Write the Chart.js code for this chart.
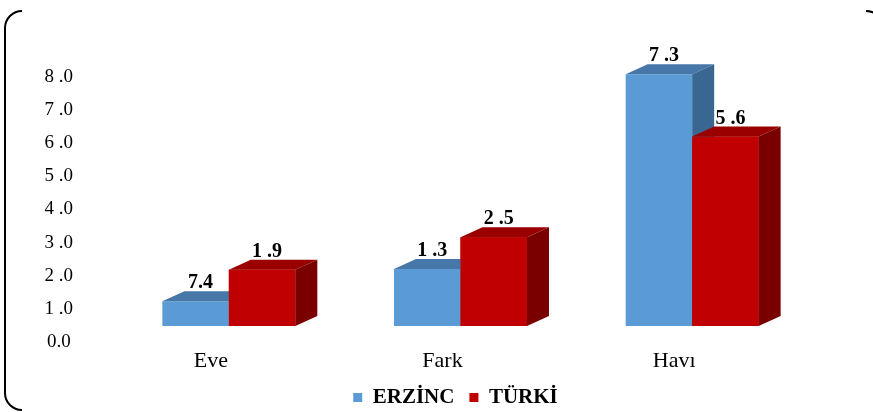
<!DOCTYPE html>
<html lang="tr">
<head>
<meta charset="UTF-8">
<title>Erzincan - Türkiye</title>
<script src="https://cdn.jsdelivr.net/npm/chart.js"></script>
<style>
    html, body { margin: 0; padding: 0; background: #fff; overflow: hidden; }
    canvas { display: block; }
</style>
</head>
<body>
<canvas id="chart" width="873" height="418"></canvas>
<script>
// values
const categories = ['Eve', 'Fark', 'Havı'];
const seriesNames = ['ERZİNC', 'TÜRKİ'];
const erzincValues = [0.75, 1.72, 7.6];
const turkiValues = [1.7, 2.68, 5.72];
const erzincLabels = ['7.4', '1 .3', '7 .3'];
const turkiLabels = ['1 .9', '2 .5', '5 .6'];
const yTickLabels = ['0.0', '1 .0', '2 .0', '3 .0', '4 .0', '5 .0', '6 .0', '7 .0', '8 .0'];

const serif = "'Liberation Serif', 'Times New Roman', serif";
const frontColors = ['#5B9BD5', '#C00000'];
const topColors = ['#4677A8', '#9A0000'];
const sideColors = ['#3A6791', '#7A0000'];
const depthX = 22, depthY = 10;

function drawFaces(ctx, bar, i) {
    const {x, y, base, width} = bar.getProps(['x', 'y', 'base', 'width'], true);
    const l = x - width / 2, r = x + width / 2;
    ctx.fillStyle = topColors[i];
    ctx.beginPath();
    ctx.moveTo(l, y);
    ctx.lineTo(l + depthX, y - depthY);
    ctx.lineTo(r + depthX, y - depthY);
    ctx.lineTo(r, y);
    ctx.closePath();
    ctx.fill();
    ctx.fillStyle = sideColors[i];
    ctx.beginPath();
    ctx.moveTo(r, y);
    ctx.lineTo(r + depthX, y - depthY);
    ctx.lineTo(r + depthX, base - depthY);
    ctx.lineTo(r, base);
    ctx.closePath();
    ctx.fill();
}

// fake 3D: blue faces first, then the red bars again on top with their faces
const bar3d = {
    id: 'bar3d',
    afterDatasetsDraw(chart) {
        const ctx = chart.ctx;
        ctx.save();
        chart.getDatasetMeta(0).data.forEach(bar => drawFaces(ctx, bar, 0));
        chart.getDatasetMeta(1).data.forEach(bar => {
            bar.draw(ctx);
            drawFaces(ctx, bar, 1);
        });
        ctx.restore();
    }
};

const valueLabels = {
    id: 'valueLabels',
    afterDatasetsDraw(chart) {
        const ctx = chart.ctx;
        const texts = [erzincLabels, turkiLabels];
        ctx.save();
        ctx.font = 'bold 20px ' + serif;
        ctx.fillStyle = '#000';
        ctx.textAlign = 'center';
        ctx.textBaseline = 'middle';
        chart.data.datasets.forEach((ds, i) => {
            chart.getDatasetMeta(i).data.forEach((bar, j) => {
                ctx.fillText(texts[i][j], bar.x + 5, bar.y - 18);
            });
        });
        ctx.restore();
    }
};

// rounded border of the chart box, only partly visible
const frame = {
    id: 'frame',
    afterDraw(chart) {
        const ctx = chart.ctx;
        ctx.save();
        ctx.strokeStyle = '#000';
        ctx.lineWidth = 2;
        ctx.beginPath();
        ctx.moveTo(22, 11);
        ctx.arcTo(5, 11, 5, 30, 17);
        ctx.lineTo(5, 393);
        ctx.arcTo(5, 410, 22, 410, 17);
        ctx.stroke();
        ctx.beginPath();
        ctx.moveTo(866, 11);
        ctx.arcTo(883, 11, 883, 30, 17);
        ctx.stroke();
        ctx.restore();
    }
};

new Chart(document.getElementById('chart'), {
    type: 'bar',
    data: {
        labels: categories,
        datasets: [{
            label: seriesNames[0],
            data: erzincValues,
            backgroundColor: frontColors[0]
        }, {
            label: seriesNames[1],
            data: turkiValues,
            backgroundColor: frontColors[1]
        }]
    },
    options: {
        responsive: false,
        animation: false,
        barPercentage: 1,
        categoryPercentage: 0.574,
        layout: { padding: { left: 38, right: 0, top: 61, bottom: 0 } },
        plugins: {
            tooltip: { enabled: false },
            legend: {
                position: 'bottom',
                labels: {
                    boxWidth: 9,
                    boxHeight: 9,
                    padding: 15,
                    color: '#000',
                    font: { family: serif, size: 21, weight: 'bold' }
                }
            }
        },
        scales: {
            x: {
                grid: { display: false, drawTicks: false },
                border: { display: false },
                afterFit: scale => { scale.height = 46; },
                ticks: {
                    color: '#000',
                    padding: 22,
                    labelOffset: -18,
                    font: { family: serif, size: 22 }
                }
            },
            y: {
                min: 0,
                max: 8,
                grid: { display: false, drawTicks: false },
                border: { display: false },
                afterFit: scale => { scale.width = 75; },
                ticks: {
                    stepSize: 1,
                    color: '#000',
                    padding: 40,
                    crossAlign: 'center',
                    labelOffset: 16,
                    font: { family: serif, size: 19 },
                    callback: (v, i) => yTickLabels[i]
                }
            },
            // empty axis that only keeps the right margin
            yRight: {
                position: 'right',
                grid: { display: false, drawTicks: false },
                border: { display: false },
                ticks: { display: false },
                afterFit: scale => { scale.width = 65; }
            }
        }
    },
    plugins: [bar3d, valueLabels, frame]
});
</script>
</body>
</html>
